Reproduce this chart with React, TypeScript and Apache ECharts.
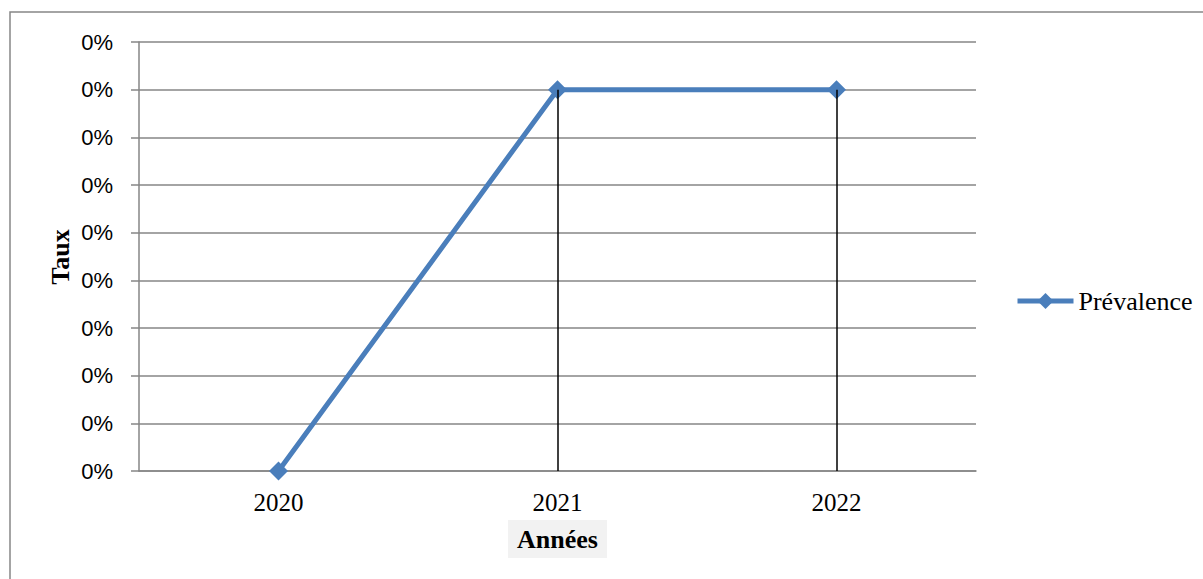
import React, { useEffect, useRef } from "react";
import * as echarts from "echarts";

// Années et taux de prévalence (valeurs très faibles, affichées en % arrondi)
const years = ["2020", "2021", "2022"];
const prevalence = [0, 0.0008, 0.0008];
const yMin = 0;
const yMax = 0.0009;
const yStep = 0.0001;

const gridColor = "#868686";
const lineColor = "#4A7EBB";

export default function App() {
  const ref = useRef<HTMLDivElement>(null);

  useEffect(() => {
    if (!ref.current) return;
    const chart = echarts.init(ref.current, null, { renderer: "svg" });

    // Lignes de projection verticales depuis chaque point non nul vers l'axe
    const dropLines = prevalence
      .map((v, i) => ({ v, i }))
      .filter((d) => d.v > yMin)
      .map((d) => [
        { coord: [d.i, d.v] },
        { coord: [d.i, yMin] },
      ]);

    chart.setOption({
      animation: false,
      backgroundColor: "#ffffff",
      grid: { left: 139, right: 227, top: 42, bottom: 108, containLabel: false },
      legend: {
        left: 1015,
        top: 288,
        padding: 0,
        itemWidth: 56,
        itemHeight: 20,
        itemGap: 5,
        lineStyle: { width: 5, color: lineColor },
        itemStyle: { color: lineColor },
        textStyle: {
          fontFamily: "Liberation Serif, Times New Roman, serif",
          fontSize: 26,
          color: "#000",
        },
        data: ["Prévalence"],
      },
      xAxis: {
        type: "category",
        data: years,
        boundaryGap: true,
        axisLine: { lineStyle: { color: gridColor, width: 1.5 } },
        axisTick: { show: false },
        axisLabel: {
          margin: 19,
          color: "#000",
          fontFamily: "Liberation Serif, Times New Roman, serif",
          fontSize: 25,
        },
      },
      yAxis: {
        type: "value",
        min: yMin,
        max: yMax,
        interval: yStep,
        axisLine: { show: true, lineStyle: { color: gridColor, width: 1.5 } },
        axisTick: { show: true, length: 8, lineStyle: { color: gridColor, width: 1.5 } },
        splitLine: { lineStyle: { color: gridColor, width: 1.5 } },
        axisLabel: {
          margin: 26,
          color: "#000",
          fontFamily: "Liberation Sans, Arial, sans-serif",
          fontSize: 22,
          formatter: (v: number) => `${Math.round(v * 100)}%`,
        },
      },
      series: [
        {
          name: "Prévalence",
          type: "line",
          data: prevalence,
          symbol: "diamond",
          symbolSize: 19,
          itemStyle: { color: lineColor },
          lineStyle: { color: lineColor, width: 5 },
          markLine: {
            silent: true,
            symbol: ["none", "none"],
            label: { show: false },
            lineStyle: { color: "#000", width: 1.5, type: "solid" },
            data: dropLines,
          },
        },
      ],
      graphic: [
        {
          type: "rect",
          shape: { x: 10, y: 12, width: 1400, height: 800 },
          style: { fill: "none", stroke: gridColor, lineWidth: 1.5 },
          silent: true,
        },
        {
          type: "text",
          x: 60,
          y: 257,
          rotation: Math.PI / 2,
          style: {
            text: "Taux",
            fontFamily: "Liberation Serif, Times New Roman, serif",
            fontWeight: "bold",
            fontSize: 26,
            fill: "#000",
            align: "center",
            verticalAlign: "middle",
          },
        },
        {
          type: "rect",
          shape: { x: 508, y: 520, width: 99, height: 38 },
          style: { fill: "#f2f2f2" },
          silent: true,
        },
        {
          type: "text",
          x: 557.5,
          y: 539,
          style: {
            text: "Années",
            fontFamily: "Liberation Serif, Times New Roman, serif",
            fontWeight: "bold",
            fontSize: 26,
            fill: "#000",
            align: "center",
            verticalAlign: "middle",
          },
        },
      ],
    });

    return () => chart.dispose();
  }, []);

  return (
    <div
      ref={ref}
      style={{ position: "fixed", left: 0, top: 0, width: 1203, height: 579 }}
    />
  );
}
